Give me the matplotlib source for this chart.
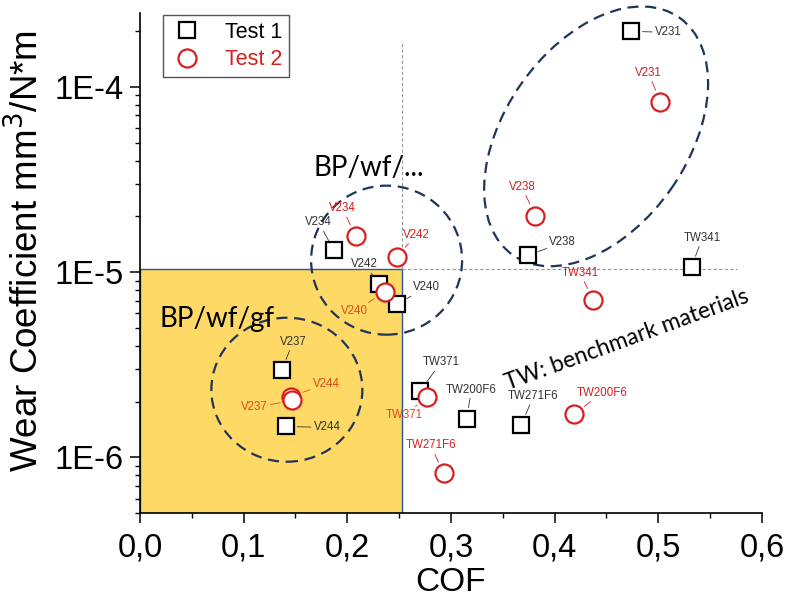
import math
import matplotlib
matplotlib.use('Agg')
import matplotlib.pyplot as plt
from matplotlib.patches import Rectangle, Ellipse
from matplotlib.transforms import ScaledTranslation
from matplotlib.ticker import FixedLocator, FuncFormatter, LogLocator, NullFormatter, MultipleLocator

plt.rcParams['font.family'] = ['Liberation Sans', 'DejaVu Sans']

# Test 1 (squares)
t1_names = ['V231', 'V238', 'TW341', 'V234', 'V242', 'V240', 'V237', 'V244', 'TW371', 'TW200F6', 'TW271F6']
t1_cof = [0.474, 0.374, 0.532, 0.187, 0.231, 0.248, 0.137, 0.141, 0.270, 0.315, 0.368]
t1_wear = [1.99e-4, 1.23e-5, 1.07e-5, 1.31e-5, 8.6e-6, 6.7e-6, 2.97e-6, 1.47e-6, 2.27e-6, 1.62e-6, 1.50e-6]

# Test 2 (circles)
t2_names = ['V231', 'V238', 'TW341', 'V234', 'V242', 'V240', 'V244', 'V237', 'TW371', 'TW271F6', 'TW200F6']
t2_cof = [0.502, 0.381, 0.437, 0.208, 0.248, 0.236, 0.146, 0.147, 0.277, 0.293, 0.419]
t2_wear = [8.3e-5, 2.02e-5, 7.1e-6, 1.56e-5, 1.21e-5, 7.8e-6, 2.13e-6, 2.03e-6, 2.11e-6, 8.2e-7, 1.72e-6]

# label offsets (pixels) from each marker
t1_off = [(37, -1), (35, 13), (11, 29), (-15, 28), (-15, 20), (29, 17), (11, 28), (41, -1), (21, 29), (5, 29), (12, 29)]
t2_off = [(-12, 29), (-13, 29), (-13, 27), (-13, 28), (19, 22), (-30, -19), (35, 13), (-38, -7), (-23, -18), (-13, 28), (28, 21)]
t2_lblcol = ['#D42020'] * 5 + ['#E04A1A', '#E04A1A', '#E04A1A', '#E04A1A', '#D42020', '#D42020']

# low wear / low friction region
low_cof = 0.2527
low_wear = 1.045e-5

RED = '#D42020'
NAVY = '#1F3558'

fig = plt.figure(figsize=(7.85, 6.07), dpi=100)
ax = fig.add_axes([0.1783, 0.1544, 0.7924, 0.8242])
ax.set_yscale('log')
ax.set_xlim(0, 0.6)
ax.set_ylim(5e-7, 2.5e-4)

ax.add_patch(Rectangle((0, 5e-7), low_cof, low_wear - 5e-7, facecolor='#FFD966',
                       edgecolor='#2F5597', lw=1, zorder=1))
ax.plot([low_cof, low_cof], [low_wear, 1.76e-4], color='#999999', lw=0.8, ls=(0, (3, 2)), zorder=1)
ax.plot([low_cof, 0.576], [low_wear, low_wear], color='#999999', lw=0.8, ls=(0, (3, 2)), zorder=1)


def ring(cx, cy, w, h, ang=0):
    # dashed ellipse centred on a data point, size in inches
    tr = fig.dpi_scale_trans + ScaledTranslation(cx, cy, ax.transData)
    ax.add_patch(Ellipse((0, 0), w, h, angle=ang, transform=tr, fill=False,
                         edgecolor=NAVY, lw=1.6, ls=(0, (5, 3)), clip_on=False, zorder=2))


ring(0.440, 5.4e-5, 2.90, 1.83, 55)
ring(0.2379, 1.16e-5, 1.51, 1.49)
ring(0.1417, 2.32e-6, 1.51, 1.44)

ax.plot(t1_cof, t1_wear, 's', ms=11, mfc='white', mec='black', mew=1.6, label='Test 1', zorder=4)
ax.plot(t2_cof, t2_wear, 'o', ms=13, mfc='white', mec=RED, mew=1.6, label='Test 2', zorder=5)

for n, x, y, o in zip(t1_names, t1_cof, t1_wear, t1_off):
    ax.annotate(n, xy=(x, y), xytext=o, textcoords='offset pixels', ha='center', va='center',
                fontsize=8.3, color='#333333', zorder=6,
                arrowprops=dict(arrowstyle='-', color='#333333', lw=0.6, shrinkA=0, shrinkB=8))
for n, x, y, o, c in zip(t2_names, t2_cof, t2_wear, t2_off, t2_lblcol):
    ax.annotate(n, xy=(x, y), xytext=o, textcoords='offset pixels', ha='center', va='center',
                fontsize=8.3, color=c, zorder=6,
                arrowprops=dict(arrowstyle='-', color=c, lw=0.6, shrinkA=0, shrinkB=9))

ax.text(0.0193, 5.07e-6, 'BP/wf/gf', family='Lato', fontsize=20, ha='left', va='baseline', zorder=6)
ax.text(0.167, 3.28e-5, 'BP/wf/...', family='Lato', fontsize=20, ha='left', va='baseline', zorder=6)
ax.text(0.470, 4.32e-6, 'TW: benchmark materials', family='Lato', fontsize=16.5, rotation=20,
        ha='center', va='center', rotation_mode='anchor', zorder=6)

# axes styling
for s in ['top', 'right']:
    ax.spines[s].set_visible(False)
for s in ['left', 'bottom']:
    ax.spines[s].set_linewidth(1.2)
    ax.spines[s].set_zorder(3)

ax.xaxis.set_major_locator(MultipleLocator(0.1))
ax.xaxis.set_minor_locator(MultipleLocator(0.05))
ax.xaxis.set_major_formatter(FuncFormatter(lambda v, p: f'{v:.1f}'.replace('.', ',')))
ax.yaxis.set_major_locator(FixedLocator([1e-6, 1e-5, 1e-4]))
ax.yaxis.set_major_formatter(FuncFormatter(lambda v, p: '1E%d' % round(math.log10(v))))
ax.yaxis.set_minor_locator(LogLocator(base=10, subs=range(2, 10)))
ax.yaxis.set_minor_formatter(NullFormatter())
ax.tick_params(which='major', length=7, width=1.1, labelsize=23.5)
ax.tick_params(which='minor', length=3.5, width=1.0)
ax.tick_params(axis='x', pad=7)
ax.tick_params(axis='y', pad=5)

ax.set_xlabel('COF', fontsize=24, labelpad=2)
ax.set_ylabel('Wear Coefficient mm$^3$/N*m', fontsize=26.5)
ax.yaxis.set_label_coords(-0.15, 0.525)

leg = ax.legend(loc='upper left', bbox_to_anchor=(0.037, 0.995), borderaxespad=0, fontsize=15.5,
                frameon=True, fancybox=False, edgecolor='#555555', framealpha=1, numpoints=1,
                borderpad=0.3, handletextpad=1.0, labelspacing=0.3, handlelength=1.6,
                labelcolor=['black', RED])
leg.get_frame().set_linewidth(1.0)
leg.set_zorder(7)

fig.savefig('out.png', dpi=100)
